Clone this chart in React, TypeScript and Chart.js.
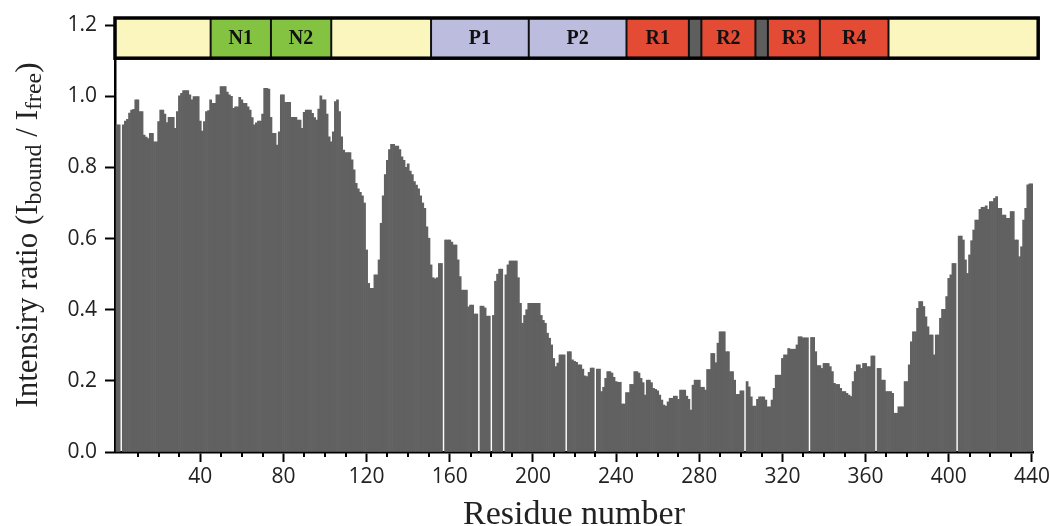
import React, { useEffect, useRef } from 'react';
import { Chart, registerables } from 'chart.js';

Chart.register(...registerables);

// Residue numbers (bars) and intensity ratios I_bound / I_free (null = missing residue)
const residueNumbers: number[] = Array.from({ length: 441 }, (_, i) => i);
const intensityRatio: (number | null)[] = [
  0.92, 0.92, null, 0.92, 0.93, 0.935, 0.953, 0.961, 0.963, 0.99,
  0.99, 0.957, 0.957, 0.891, 0.885, 0.881, 0.896, 0.896, 0.872, 0.872,
  0.929, 0.961, 0.961, 0.95, 0.926, 0.941, 0.941, 0.941, 0.91, 0.957,
  1.001, 1.008, 1.016, 1.016, 1.016, 1.004, 0.99, 0.999, 0.999, 0.999,
  0.93, 0.902, 0.929, 0.957, 0.96, 0.99, 0.98, 0.98, 1.004, 1.004,
  1.027, 1.027, 1.027, 1.012, 1.004, 1.0, 0.966, 0.97, 0.97, 0.997,
  0.99, 0.98, 0.98, 0.97, 0.961, 0.94, 0.92, 0.925, 0.93, 0.93,
  0.95, 1.022, 1.022, 1.02, 0.941, 0.896, 0.896, 0.863, 0.9, 1.004,
  1.004, 0.983, 0.983, 0.983, 0.941, 0.941, 0.941, 0.933, 0.933, 0.91,
  0.955, 0.961, 0.961, 0.961, 0.952, 0.94, 0.933, 0.964, 1.001, 0.99,
  0.99, 0.95, 0.886, 0.872, 0.9, 0.985, 0.99, 0.957, 0.886, 0.849,
  0.842, 0.842, 0.842, 0.821, 0.793, 0.755, 0.74, 0.73, 0.72, 0.7,
  0.568, 0.474, 0.46, 0.46, 0.498, 0.498, 0.54, 0.643, 0.72, 0.78,
  0.82, 0.85, 0.865, 0.865, 0.86, 0.86, 0.85, 0.83, 0.82, 0.8,
  0.81, 0.79, 0.78, 0.76, 0.75, 0.74, 0.72, 0.7, 0.685, 0.633,
  0.601, 0.526, 0.49, 0.487, 0.49, 0.53, 0.53, null, 0.596, 0.596,
  0.596, 0.59, 0.582, 0.582, 0.54, 0.493, 0.455, 0.455, 0.455, 0.408,
  0.413, 0.413, 0.388, 0.388, null, 0.41, 0.41, 0.405, 0.382, 0.382,
  null, 0.384, 0.48, 0.5, 0.514, 0.514, null, 0.498, 0.526, 0.537,
  0.537, 0.537, 0.537, 0.49, 0.418, 0.362, 0.384, 0.4, 0.418, 0.418,
  0.418, 0.418, 0.418, 0.418, 0.384, 0.37, 0.362, 0.334, 0.32, 0.301,
  0.263, 0.24, 0.25, 0.273, 0.273, 0.273, null, 0.282, 0.282, 0.259,
  0.255, 0.252, 0.245, 0.245, 0.233, 0.214, 0.212, 0.224, 0.236, 0.236,
  null, 0.233, 0.233, 0.17, 0.182, 0.207, 0.226, 0.226, 0.222, 0.21,
  0.198, 0.196, 0.196, 0.135, 0.135, 0.167, 0.167, 0.19, 0.19, 0.226,
  0.226, 0.222, 0.207, 0.195, 0.16, 0.202, 0.202, 0.195, 0.179, 0.176,
  0.172, 0.16, 0.146, 0.132, 0.129, 0.141, 0.151, 0.151, 0.157, 0.157,
  0.148, 0.174, 0.174, 0.174, 0.157, 0.148, 0.118, 0.188, 0.202, 0.202,
  0.202, 0.182, 0.182, 0.174, 0.232, 0.232, 0.277, 0.277, 0.251, 0.306,
  0.338, 0.338, 0.338, 0.282, 0.282, 0.226, 0.226, 0.202, 0.162, 0.162,
  0.172, 0.172, null, 0.198, 0.183, 0.155, 0.129, 0.129, 0.148, 0.155,
  0.155, 0.155, 0.146, 0.127, 0.127, 0.146, 0.179, 0.216, 0.216, 0.216,
  0.263, 0.273, 0.273, 0.291, 0.289, 0.289, 0.289, 0.301, 0.324, 0.324,
  0.321, 0.321, 0.321, null, 0.322, 0.322, 0.282, 0.243, 0.243, 0.235,
  0.249, 0.249, 0.249, 0.24, 0.226, 0.193, 0.19, 0.19, 0.179, 0.17,
  0.17, 0.165, 0.16, 0.156, 0.198, 0.226, 0.245, 0.245, 0.235, 0.249,
  0.249, 0.24, 0.24, 0.27, 0.27, null, 0.235, 0.235, 0.202, 0.202,
  0.17, 0.17, 0.17, 0.165, 0.109, 0.109, 0.127, 0.127, 0.127, 0.198,
  0.198, 0.245, 0.31, 0.338, 0.338, 0.404, 0.423, 0.423, 0.409, 0.38,
  0.352, 0.329, 0.329, 0.273, 0.329, 0.329, 0.376, 0.401, 0.401, 0.437,
  0.488, 0.498, 0.53, 0.53, null, 0.607, 0.607, 0.596, 0.54, 0.502,
  0.554, 0.594, 0.624, 0.652, 0.652, 0.682, 0.688, 0.688, 0.692, 0.682,
  0.704, 0.704, 0.713, 0.718, 0.685, 0.685, 0.666, 0.666, 0.657, 0.657,
  0.676, 0.676, 0.596, 0.596, 0.549, 0.577, 0.652, 0.685, 0.751, 0.754,
  0.754,
];

// Axis ticks
const xMajorTicks = [40, 80, 120, 160, 200, 240, 280, 320, 360, 400, 440];
const xMinorTicks = [
  10, 20, 30, 50, 60, 70, 90, 100, 110, 130, 140, 150, 170, 180, 190, 210, 220, 230,
  250, 260, 270, 290, 300, 310, 330, 340, 350, 370, 380, 390, 410, 420, 430,
];
const yTicks = [0, 0.2, 0.4, 0.6, 0.8, 1.0, 1.2];

// Domain map (residue ranges)
const domainLabels = ['', 'N1', 'N2', '', 'P1', 'P2', 'R1', '', 'R2', '', 'R3', 'R4', ''];
const domainKinds = ['linker', 'N', 'N', 'linker', 'P', 'P', 'R', 'gap', 'R', 'gap', 'R', 'R', 'linker'];
const domainStart = [-1, 45, 74, 103, 151, 198, 245, 275, 281, 307, 313, 338, 371];
const domainEnd = [45, 74, 103, 151, 198, 245, 275, 281, 307, 313, 338, 371, 443];
const domainTop = 1.22;
const domainBottom = 1.107;

const xTitle = 'Residue number';
const yTitleParts: [string, boolean][] = [
  ['Intensiry ratio (I', false],
  ['bound', true],
  [' / I', false],
  ['free', true],
  [')', false],
];

const domainColors: Record<string, string> = {
  linker: '#fbf6bd',
  N: '#84c341',
  P: '#bcbcdf',
  R: '#e34b34',
  gap: '#5e5e5e',
};

const TICK_FONT = { family: '"Open Sans", sans-serif', size: 21 };
const SERIF = '"Liberation Serif", "DejaVu Serif", serif';

const overlayPlugin = {
  id: 'overlay',
  afterDraw(chart: any) {
    const { ctx, chartArea } = chart;
    const x = chart.scales.x;
    const y = chart.scales.y;
    ctx.save();

    // minor ticks on x axis
    ctx.strokeStyle = '#000';
    ctx.lineWidth = 2;
    for (const v of xMinorTicks) {
      const px = Math.round(x.getPixelForValue(v));
      ctx.beginPath();
      ctx.moveTo(px, chartArea.bottom);
      ctx.lineTo(px, chartArea.bottom + 5);
      ctx.stroke();
    }

    // domain bar
    const yT = y.getPixelForValue(domainTop);
    const yB = y.getPixelForValue(domainBottom);
    const xs = domainStart.map((s) => x.getPixelForValue(s));
    const xe = domainEnd.map((e) => x.getPixelForValue(e));
    domainStart.forEach((_, i) => {
      ctx.fillStyle = domainColors[domainKinds[i]];
      ctx.fillRect(xs[i], yT, xe[i] - xs[i], yB - yT);
    });
    ctx.strokeStyle = '#111';
    ctx.lineWidth = 2;
    for (let i = 1; i < xs.length; i++) {
      ctx.beginPath();
      ctx.moveTo(xs[i], yT);
      ctx.lineTo(xs[i], yB);
      ctx.stroke();
    }
    ctx.lineWidth = 3.5;
    ctx.strokeStyle = '#000';
    ctx.strokeRect(xs[0], yT, xe[xe.length - 1] - xs[0], yB - yT);

    ctx.fillStyle = '#111';
    ctx.font = `bold 20px ${SERIF}`;
    ctx.textAlign = 'center';
    ctx.textBaseline = 'middle';
    domainLabels.forEach((lab, i) => {
      if (!lab) return;
      ctx.fillText(lab, (xs[i] + xe[i]) / 2, (yT + yB) / 2 + 1);
    });

    // y axis title with subscripts
    const mainFont = `31px ${SERIF}`;
    const subFont = `24px ${SERIF}`;
    let total = 0;
    for (const [t, sub] of yTitleParts) {
      ctx.font = sub ? subFont : mainFont;
      total += ctx.measureText(t).width;
    }
    const cy = (chartArea.top + chartArea.bottom) / 2;
    ctx.translate(29, cy);
    ctx.rotate(-Math.PI / 2);
    ctx.textAlign = 'left';
    ctx.textBaseline = 'middle';
    ctx.fillStyle = '#222';
    let pos = -total / 2;
    for (const [t, sub] of yTitleParts) {
      ctx.font = sub ? subFont : mainFont;
      ctx.fillText(t, pos, sub ? 6 : 0);
      pos += ctx.measureText(t).width;
    }
    ctx.restore();
  },
};

export default function App() {
  const ref = useRef<HTMLCanvasElement>(null);

  useEffect(() => {
    document.body.style.margin = '0';
    const points = residueNumbers.map((r, i) => ({ x: r, y: intensityRatio[i] }));
    const chart = new Chart(ref.current as HTMLCanvasElement, {
      type: 'bar',
      data: {
        datasets: [
          {
            data: points as any,
            backgroundColor: '#616161',
            borderWidth: 0,
            barPercentage: 1,
            categoryPercentage: 1,
          },
        ],
      },
      options: {
        responsive: false,
        animation: false,
        layout: { padding: { top: 18, right: 17, bottom: 0, left: 0 } },
        plugins: { legend: { display: false }, tooltip: { enabled: false } },
        scales: {
          x: {
            type: 'linear',
            offset: false,
            min: -1,
            max: 440.5,
            afterBuildTicks: (s: any) => {
              s.ticks = xMajorTicks.map((v) => ({ value: v }));
            },
            afterFit: (s: any) => {
              s.height = 74;
              s.paddingLeft = 0;
              s.paddingRight = 0;
            },
            ticks: {
              autoSkip: false,
              maxRotation: 0,
              padding: 2,
              color: '#222',
              font: TICK_FONT,
              callback: (v: any) => String(v),
            },
            grid: {
              offset: false,
              drawOnChartArea: false,
              drawTicks: true,
              tickLength: 10,
              tickWidth: 2,
              tickColor: '#000',
            },
            border: { display: true, color: '#000', width: 2.5 },
            title: {
              display: true,
              text: xTitle,
              color: '#222',
              font: { family: SERIF, size: 34, lineHeight: 1 },
              padding: { top: 0, bottom: -6 },
            },
          },
          y: {
            type: 'linear',
            min: 0,
            max: 1.22,
            afterBuildTicks: (s: any) => {
              s.ticks = yTicks.map((v) => ({ value: v }));
            },
            afterFit: (s: any) => {
              s.width = 115;
              s.paddingTop = 0;
              s.paddingBottom = 0;
            },
            ticks: {
              padding: 8,
              color: '#222',
              font: TICK_FONT,
              callback: (v: any) => Number(v).toFixed(1),
            },
            grid: {
              drawOnChartArea: false,
              drawTicks: true,
              tickLength: 10,
              tickWidth: 2,
              tickColor: '#000',
            },
            border: { display: true, color: '#000', width: 2.5 },
          },
        },
      },
      plugins: [overlayPlugin],
    });
    return () => chart.destroy();
  }, []);

  return (
    <div style={{ width: 1050, height: 526 }}>
      <canvas ref={ref} width={1050} height={526} style={{ display: 'block' }} />
    </div>
  );
}
